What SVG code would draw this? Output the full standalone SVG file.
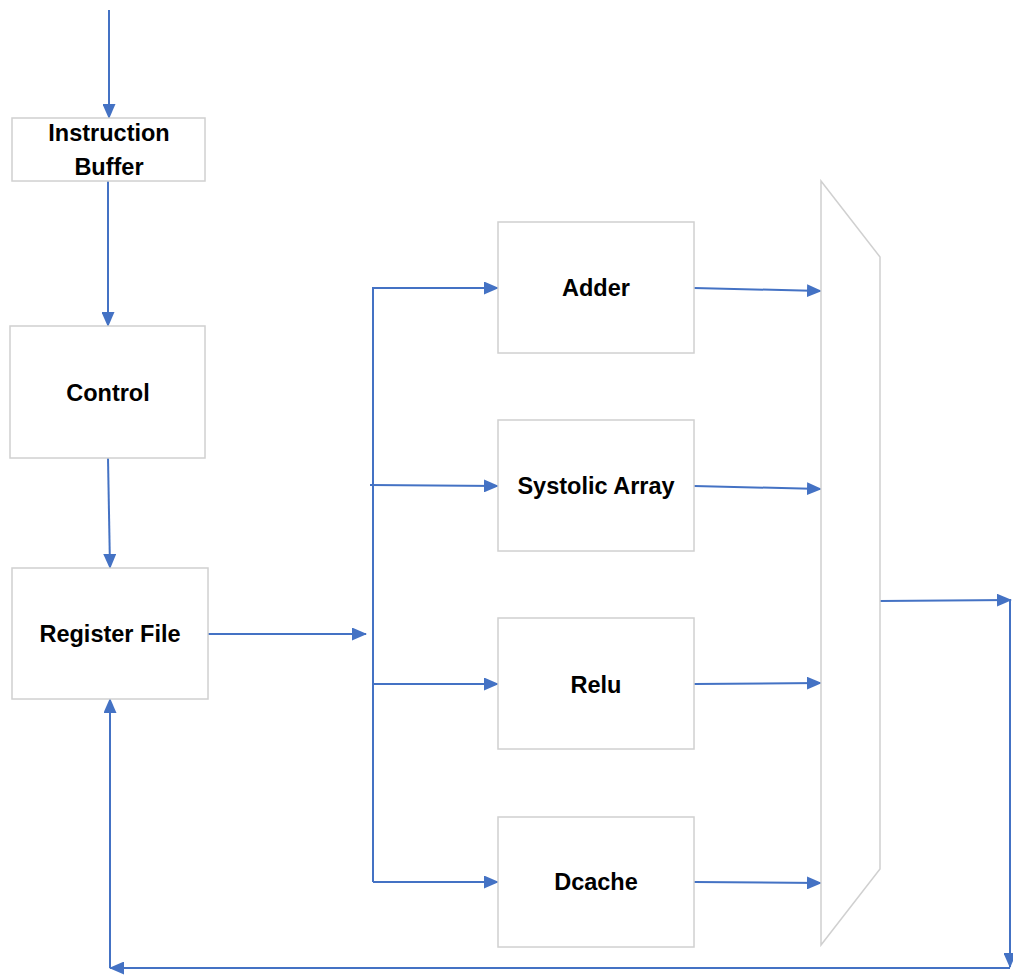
<svg xmlns="http://www.w3.org/2000/svg" width="1013" height="975" viewBox="0 0 1013 975">
<style>
.box{fill:#fff;stroke:#d0d0d0;stroke-width:1.5}
.lbl{font-family:"Liberation Sans",Arial,sans-serif;font-weight:bold;font-size:23.5px;fill:#000;text-anchor:middle}
.c{fill:none;stroke:#4472C4;stroke-width:2}
</style>
<defs>
<marker id="ah" markerUnits="userSpaceOnUse" markerWidth="15" markerHeight="13" refX="14" refY="6.5" orient="auto">
<path d="M0,0 L15,6.5 L0,13 Z" fill="#4472C4"/>
</marker>
</defs>
<rect width="1013" height="975" fill="#fff"/>
<g id="connectors">
<line class="c" x1="109" y1="10" x2="109" y2="118" marker-end="url(#ah)"/>
<line class="c" x1="108" y1="181" x2="108" y2="326" marker-end="url(#ah)"/>
<line class="c" x1="108" y1="458" x2="110" y2="568" marker-end="url(#ah)"/>
<line class="c" x1="208" y1="634" x2="366" y2="634" marker-end="url(#ah)"/>
<polyline class="c" points="373,882 373,288 498,288" marker-end="url(#ah)"/>
<line class="c" x1="370" y1="485" x2="498" y2="486" marker-end="url(#ah)"/>
<line class="c" x1="372" y1="684" x2="498" y2="684" marker-end="url(#ah)"/>
<line class="c" x1="373" y1="882" x2="498" y2="882" marker-end="url(#ah)"/>
<line class="c" x1="694" y1="288" x2="821" y2="291" marker-end="url(#ah)"/>
<line class="c" x1="694" y1="486" x2="821" y2="489" marker-end="url(#ah)"/>
<line class="c" x1="694" y1="684" x2="821" y2="683" marker-end="url(#ah)"/>
<line class="c" x1="694" y1="882" x2="821" y2="883" marker-end="url(#ah)"/>
<line class="c" x1="880" y1="601" x2="1011" y2="600" marker-end="url(#ah)"/>
<line class="c" x1="1010" y1="600" x2="1010" y2="967" marker-end="url(#ah)"/>
<line class="c" x1="1010" y1="968" x2="110" y2="968" marker-end="url(#ah)"/>
<line class="c" x1="110" y1="968" x2="110" y2="699" marker-end="url(#ah)"/>
</g>
<g id="instruction-buffer">
<rect class="box" x="12" y="118" width="193" height="63"/>
<text class="lbl" x="109" y="141">Instruction</text>
<text class="lbl" x="109" y="175">Buffer</text>
</g>
<g id="control">
<rect class="box" x="10" y="326" width="195" height="132"/>
<text class="lbl" x="108" y="401">Control</text>
</g>
<g id="register-file">
<rect class="box" x="12" y="568" width="196" height="131"/>
<text class="lbl" x="110" y="642">Register File</text>
</g>
<g id="adder">
<rect class="box" x="498" y="222" width="196" height="131"/>
<text class="lbl" x="596" y="296">Adder</text>
</g>
<g id="systolic-array">
<rect class="box" x="498" y="420" width="196" height="131"/>
<text class="lbl" x="596" y="494">Systolic Array</text>
</g>
<g id="relu">
<rect class="box" x="498" y="618" width="196" height="131"/>
<text class="lbl" x="596" y="693">Relu</text>
</g>
<g id="dcache">
<rect class="box" x="498" y="817" width="196" height="130"/>
<text class="lbl" x="596" y="890">Dcache</text>
</g>
<g id="mux">
<polygon class="box" points="821,181 880,257 880,869 821,945"/>
</g>
</svg>
